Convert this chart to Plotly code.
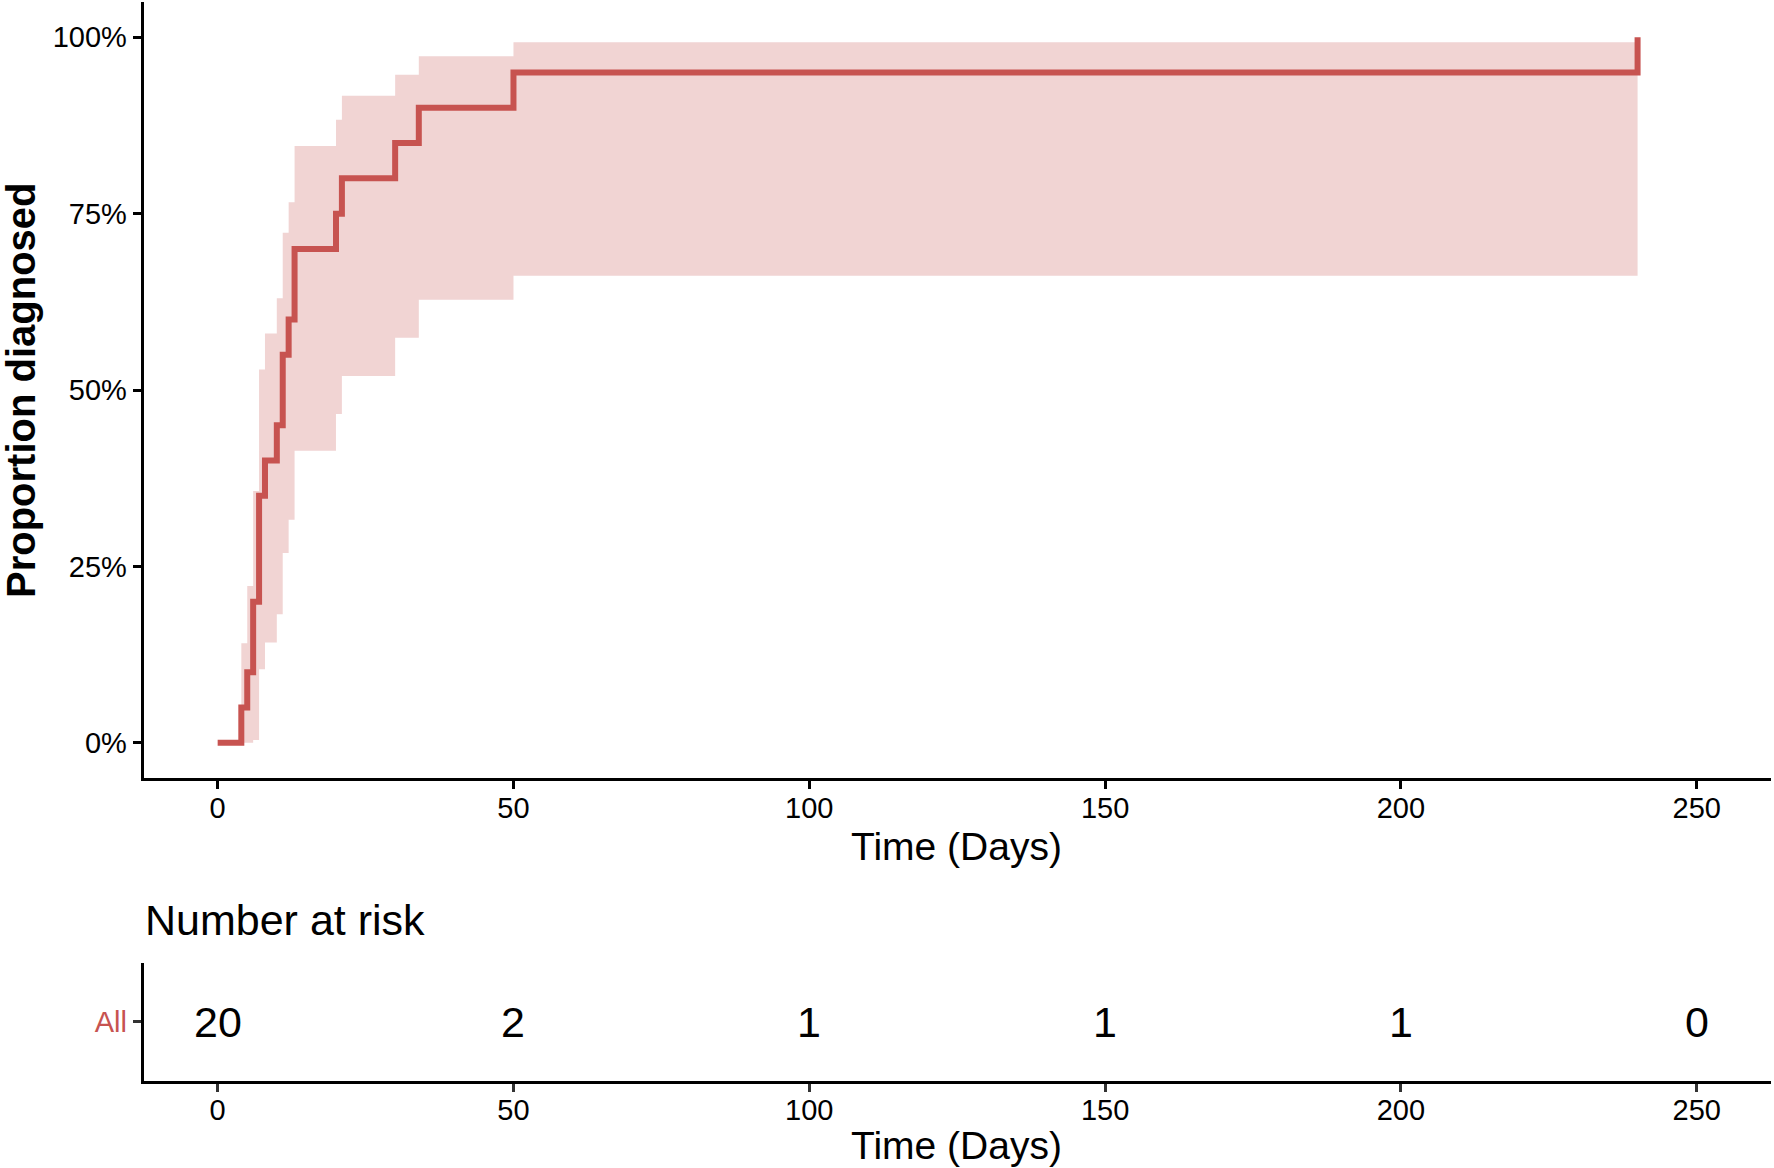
import plotly.graph_objects as go

# ---- data ----
times = [0, 4, 5, 6, 7, 8, 10, 11, 12, 13, 20, 21, 30, 34, 50, 240]
prop_diag = [0, 5, 10, 20, 35, 40, 45, 55, 60, 70, 75, 80, 85, 90, 95, 100]

band_times = [4, 5, 6, 7, 8, 10, 11, 12, 13, 20, 21, 30, 34, 50, 240]
ci_lower = [0, 0, 0.4, 10.4, 14.2, 18.2, 26.9, 31.6, 41.4, 46.6, 52.0, 57.4, 62.8, 66.2, 66.2]
ci_upper = [14.1, 22.2, 35.7, 52.9, 58.0, 63.0, 72.3, 76.6, 84.6, 88.3, 91.7, 94.7, 97.3, 99.3, 99.3]

x_ticks = [0, 50, 100, 150, 200, 250]
y_ticks = [0, 25, 50, 75, 100]
y_ticklabels = ["0%", "25%", "50%", "75%", "100%"]

risk_times = [0, 50, 100, 150, 200, 250]
risk_counts = [20, 2, 1, 1, 1, 0]
risk_group = "All"

LINE = "#C75350"
BAND = "rgba(199,83,80,0.25)"
FONT = "Liberation Sans, Arial, sans-serif"
W, H = 1774, 1168

fig = go.Figure()

fig.add_trace(go.Scatter(x=band_times, y=ci_upper, mode="lines", line=dict(width=0, shape="hv"),
                         hoverinfo="skip", showlegend=False, xaxis="x", yaxis="y"))
fig.add_trace(go.Scatter(x=band_times, y=ci_lower, mode="lines", line=dict(width=0, shape="hv"),
                         fill="tonexty", fillcolor=BAND, hoverinfo="skip", showlegend=False,
                         xaxis="x", yaxis="y"))
fig.add_trace(go.Scatter(x=times, y=prop_diag, mode="lines",
                         line=dict(color=LINE, width=6, shape="hv"),
                         showlegend=False, xaxis="x", yaxis="y"))

# invisible trace so the risk-table axes exist
fig.add_trace(go.Scatter(x=risk_times, y=[0] * len(risk_times), mode="markers",
                         marker=dict(opacity=0), hoverinfo="skip", showlegend=False,
                         xaxis="x2", yaxis="y2"))
for t, c in zip(risk_times, risk_counts):
    fig.add_annotation(x=t, y=0, xref="x2", yref="y2", text=str(c), showarrow=False,
                       xanchor="center", yanchor="middle",
                       font=dict(family=FONT, size=43, color="black"))

xr = [-12.5, 262.5]
axis_common = dict(showgrid=False, zeroline=False, showline=True, linecolor="black", linewidth=3,
                   ticks="outside", ticklen=8, tickwidth=3, automargin=False)
tick_font = dict(family=FONT, size=29, color="black")

fig.update_layout(
    width=W, height=H,
    margin=dict(l=0, r=0, t=0, b=0, autoexpand=False),
    paper_bgcolor="white", plot_bgcolor="white",
    xaxis=dict(domain=[143.7 / W, 1770.7 / W], range=xr, tickvals=x_ticks, tickcolor="black",
               anchor="y", tickfont=tick_font, ticklabelstandoff=-6, **axis_common),
    yaxis=dict(domain=[1 - 778 / H, 1 - 2 / H], range=[-5, 105], tickvals=y_ticks,
               ticktext=y_ticklabels, tickcolor="black", anchor="x", tickfont=tick_font,
               **axis_common),
    xaxis2=dict(domain=[143.7 / W, 1770.7 / W], range=xr, tickvals=x_ticks, tickcolor="#333333",
                anchor="y2", tickfont=tick_font, ticklabelstandoff=-6, **axis_common),
    yaxis2=dict(domain=[1 - 1080.5 / H, 1 - 963 / H], range=[-0.6, 0.6], tickvals=[0],
                ticktext=[risk_group], tickcolor="#333333", anchor="x2",
                tickfont=dict(family=FONT, size=29, color=LINE), **axis_common),
)

fig.add_annotation(text="<b>Proportion diagnosed</b>", textangle=-90, xref="paper", yref="paper",
                   x=21 / W, y=1 - 390 / H, xanchor="center", yanchor="middle", showarrow=False,
                   font=dict(family=FONT, size=40, color="black"))
fig.add_annotation(text="Time (Days)", xref="paper", yref="paper", x=957 / W, y=1 - 846 / H,
                   xanchor="center", yanchor="middle", showarrow=False,
                   font=dict(family=FONT, size=39, color="black"))
fig.add_annotation(text="Number at risk", xref="paper", yref="paper", x=143 / W, y=1 - 920 / H,
                   xanchor="left", yanchor="middle", showarrow=False,
                   font=dict(family=FONT, size=43, color="black"))
fig.add_annotation(text="Time (Days)", xref="paper", yref="paper", x=957 / W, y=1 - 1145 / H,
                   xanchor="center", yanchor="middle", showarrow=False,
                   font=dict(family=FONT, size=39, color="black"))

fig.write_html("out.html", config={"displayModeBar": False},
               post_script="document.body.style.margin='0px';document.body.style.overflow='hidden';")
